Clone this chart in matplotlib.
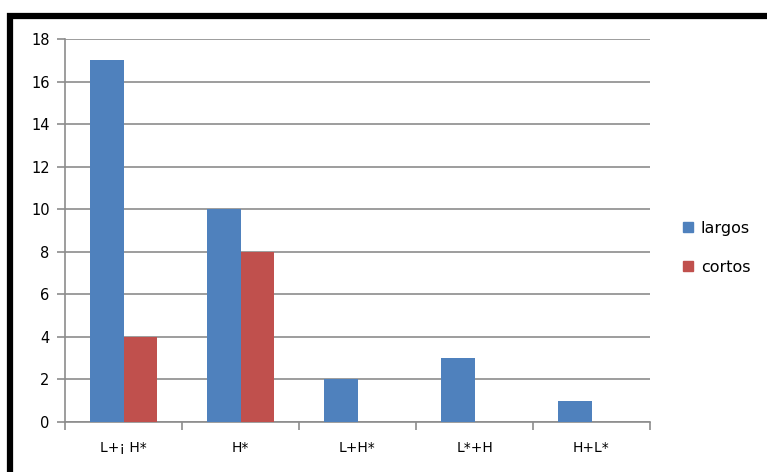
import matplotlib.pyplot as plt
import numpy as np
from matplotlib.patches import Patch, Rectangle

categories = ["L+¡ H*", "H*", "L+H*", "L*+H", "H+L*"]
largos = [17, 10, 2, 3, 1]
cortos = [4, 8, 0, 0, 0]

BLUE = "#4F81BD"
RED = "#C0504D"
GRID = "#8C8C8C"

plt.rcParams["font.family"] = ["DejaVu Sans"]

fig = plt.figure(figsize=(7.67, 4.72), dpi=100)
ax = fig.add_axes([65 / 767, 1 - 422 / 472, 585 / 767, 383 / 472])

x = np.arange(len(categories))
width = 0.286
ax.bar(x - width / 2, largos, width, color=BLUE, zorder=3)
ax.bar(x + width / 2, cortos, width, color=RED, zorder=3)

ax.set_xlim(-0.5, len(categories) - 0.5)
ax.set_ylim(0, 18)
ax.set_yticks(range(0, 19, 2))
ax.yaxis.grid(True, color=GRID, linewidth=1.2, zorder=0)

ax.set_xticks(x)
ax.set_xticklabels(categories)
ax.set_xticks(np.arange(-0.5, len(categories), 1), minor=True)
ax.tick_params(axis="x", which="major", length=0, pad=14, labelsize=10)
ax.tick_params(axis="x", which="minor", length=6, color=GRID, width=1.2)
ax.tick_params(axis="y", length=6, color=GRID, width=1.2, labelsize=10.5, pad=5)

for side in ["top", "right"]:
    ax.spines[side].set_visible(False)
for side in ["left", "bottom"]:
    ax.spines[side].set_color(GRID)
    ax.spines[side].set_linewidth(1.2)

handles = [Patch(color=BLUE, label="largos"), Patch(color=RED, label="cortos")]
fig.legend(handles=handles, loc="center left", bbox_to_anchor=(669 / 767, 1 - 248 / 472),
           frameon=False, handlelength=0.6, handleheight=0.6, handletextpad=0.5,
           labelspacing=1.5, fontsize=11.5)

# thick black frame around the chart area
fig.patches.append(Rectangle((10 / 767, -0.2), 1.2, 1 - 16 / 472 + 0.2,
                             transform=fig.transFigure, fill=False,
                             edgecolor="black", linewidth=4.5, clip_on=False))

fig.savefig("out.png", dpi=100)
